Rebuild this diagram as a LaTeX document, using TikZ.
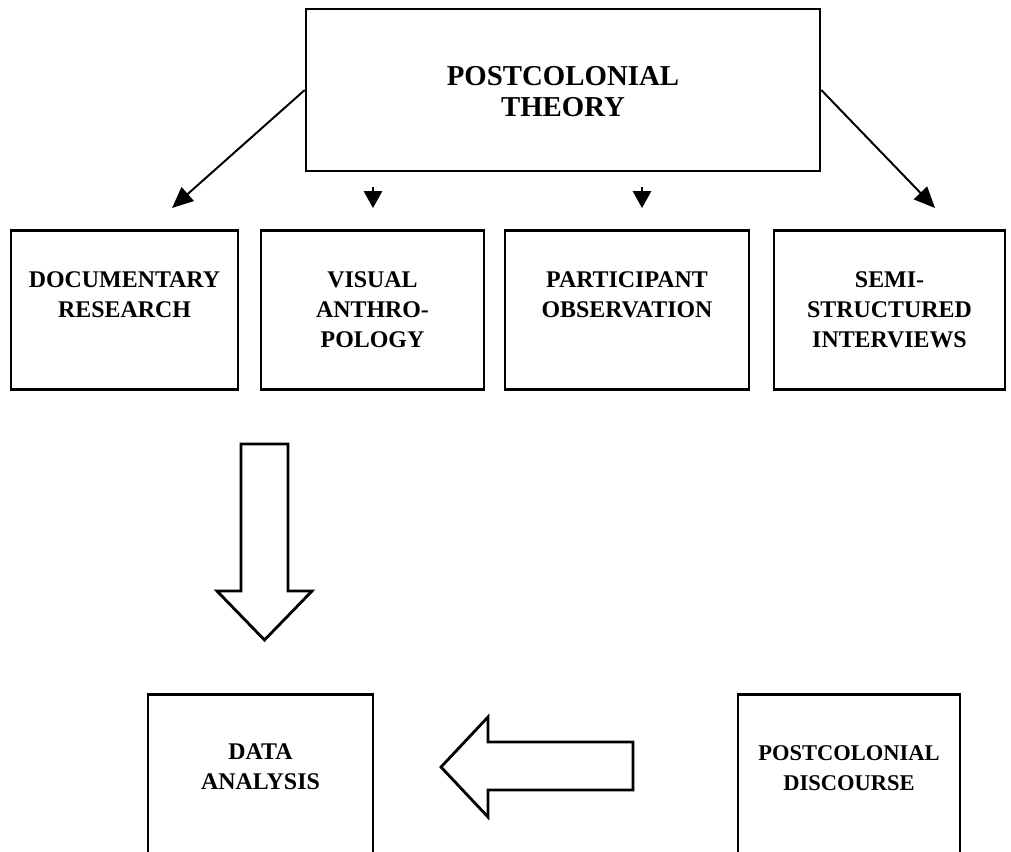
\documentclass[tikz,border=0pt]{standalone}
\usepackage{fontspec}
\setmainfont{Liberation Serif}
\usetikzlibrary{arrows.meta,positioning}
\newlength{\pxu}
\setlength{\pxu}{0.025cm}
\tikzset{
  frame/.style={draw=black,line width=1.8pt,inner sep=0pt},
  rowbox/.style={frame,minimum height=159\pxu},
  lowbox/.style={frame,minimum height=165\pxu},
  toptext/.style={font=\bfseries\fontsize{20.5}{22.5}\selectfont,align=center,inner sep=0pt},
  boxtext/.style={font=\bfseries\fontsize{17}{21.3}\selectfont,align=center,inner sep=0pt},
  feed/.style={line width=1.4pt,-{Triangle[length=15pt,width=13pt]}},
  stub/.style={line width=1.2pt,-{Triangle[length=12pt,width=13pt]}},
  hollow/.style={draw=black,line width=2pt,line join=miter,fill=white}
}
\begin{document}
\begin{tikzpicture}[x=\pxu,y=-\pxu]
  \useasboundingbox (0,0) rectangle (1011,851);
  % theory box
  \node[frame,minimum width=514\pxu,minimum height=162\pxu] (theory) at (563,90) {};
  \node[toptext,below=58\pxu of theory.north] (theorytxt) {POSTCOLONIAL\\THEORY};
  % methods
  \node[rowbox,minimum width=227\pxu] (doc) at (124.5,310) {};
  \node[rowbox,minimum width=223\pxu] (vis) at (372.5,310) {};
  \node[rowbox,minimum width=244\pxu] (part) at (627,310) {};
  \node[rowbox,minimum width=231\pxu] (semi) at (889.5,310) {};
  \node[boxtext,below=42\pxu of doc.north] (doctxt) {DOCUMENTARY\\RESEARCH};
  \node[boxtext,below=42\pxu of vis.north] (vistxt) {VISUAL\\ANTHRO-\\POLOGY};
  \node[boxtext,below=42\pxu of part.north] (parttxt) {PARTICIPANT\\OBSERVATION};
  \node[boxtext,below=42\pxu of semi.north] (semitxt) {SEMI-\\STRUCTURED\\INTERVIEWS};
  % arrows out of theory
  \coordinate (docend) at (172,208);
  \coordinate (semiend) at (935,208);
  \coordinate (vistop) at (373,187);
  \coordinate (visend) at (373,208);
  \coordinate (parttop) at (642,187);
  \coordinate (partend) at (642,208);
  \draw[feed] (theory.west) -- (docend);
  \draw[feed] (theory.east) -- (semiend);
  \draw[stub] (vistop) -- (visend);
  \draw[stub] (parttop) -- (partend);
  % down block arrow
  \draw[hollow] (241,444) -- (288,444) -- (288,591) -- (312,591) -- (264.5,640)
    -- (217,591) -- (241,591) -- cycle;
  % analysis and discourse
  \node[lowbox,minimum width=225\pxu] (data) at (260.5,777) {};
  \node[lowbox,minimum width=222\pxu] (disc) at (849,777) {};
  \node[boxtext,below=50\pxu of data.north] (datatxt) {DATA\\ANALYSIS};
  \node[boxtext,font=\bfseries\fontsize{16}{21.3}\selectfont,below=52\pxu of disc.north] (disctxt) {POSTCOLONIAL\\DISCOURSE};
  % left block arrow
  \draw[hollow] (633,742) -- (488,742) -- (488,717) -- (441,767) -- (488,817)
    -- (488,790) -- (633,790) -- cycle;
\end{tikzpicture}
\end{document}
